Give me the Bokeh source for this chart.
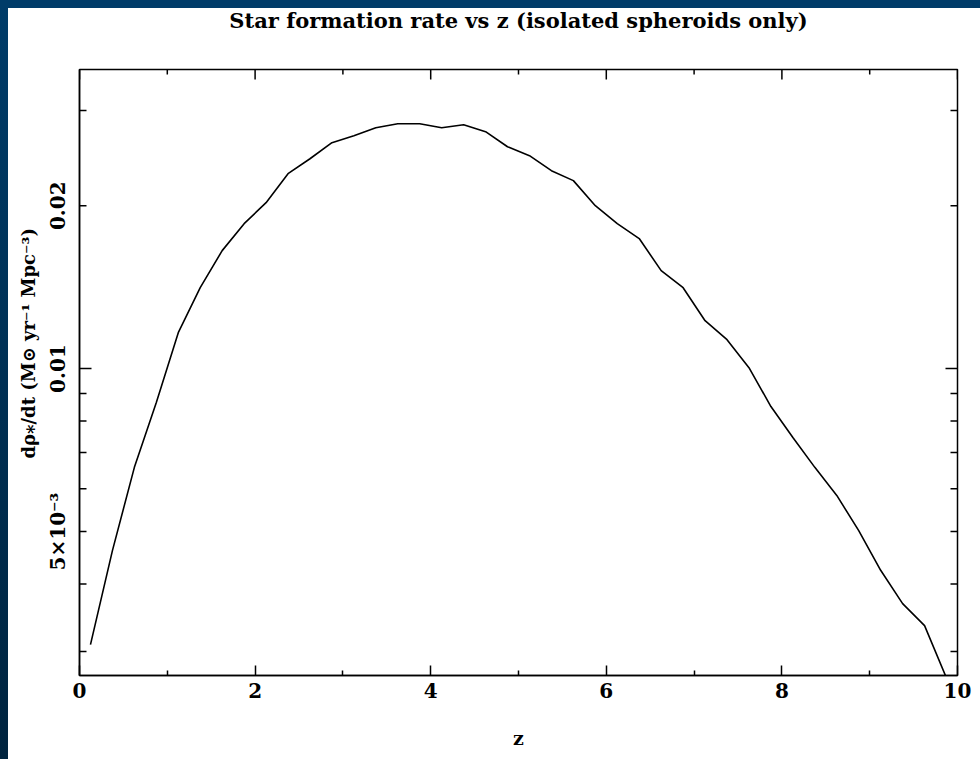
import math
from bokeh.plotting import figure
from bokeh.models import FixedTicker, Label, Range1d, Title, GlobalInlineStyleSheet
from bokeh.embed import file_html
from bokeh.resources import INLINE

# ---------------- data ----------------
z = [0.125, 0.375, 0.625, 0.875, 1.125, 1.375, 1.625, 1.875, 2.125, 2.375,
     2.625, 2.875, 3.125, 3.375, 3.625, 3.875, 4.125, 4.375, 4.625, 4.875,
     5.125, 5.375, 5.625, 5.875, 6.125, 6.375, 6.625, 6.875, 7.125, 7.375,
     7.625, 7.875, 8.125, 8.375, 8.625, 8.875, 9.125, 9.375, 9.625, 9.875]
sfr = [0.00309, 0.00461, 0.00657, 0.00866, 0.01165, 0.01411, 0.01652, 0.01853,
       0.02026, 0.02292, 0.02442, 0.02615, 0.02693, 0.02787, 0.02835, 0.02835,
       0.02787, 0.02822, 0.02740, 0.02570, 0.02474, 0.02321, 0.02225, 0.02000,
       0.01853, 0.01739, 0.01517, 0.01411, 0.01226, 0.01131, 0.01004, 0.00851,
       0.00746, 0.00657, 0.00583, 0.00502, 0.00424, 0.00368, 0.00335, 0.00268]

x_major = [0, 2, 4, 6, 8, 10]
x_minor = [1, 3, 5, 7, 9]
y_major = [0.01]
y_minor = [0.003, 0.004, 0.005, 0.006, 0.007, 0.008, 0.009, 0.02, 0.03]
y_label_ticks = [0.005, 0.01, 0.02]
y_label_texts = ["5×10⁻³", "0.01", "0.02"]

title_text = "Star formation rate vs z (isolated spheroids only)"
x_title = "z"
y_title = "dρ⁎/dt (M⊙ yr⁻¹ Mpc⁻³)"

X_LO, X_HI = 0.0, 10.0
Y_LO, Y_HI = 0.00271, 0.0357

# ---------------- layout (page pixels) ----------------
FIG_X, FIG_Y = 8, 8
W, H = 964, 743
F_L, F_R, F_T, F_B = 79, 957, 69, 675

SERIF = "DejaVu Serif"


def gx(px):
    return X_LO + (px - F_L) / (F_R - F_L) * (X_HI - X_LO)


def gy(py):
    lh, ll = math.log10(Y_HI), math.log10(Y_LO)
    return 10 ** (lh - (py - F_T) / (F_B - F_T) * (lh - ll))


p = figure(width=W, height=H,
           x_range=Range1d(X_LO, X_HI), y_range=Range1d(Y_LO, Y_HI),
           y_axis_type="log", output_backend="svg", toolbar_location=None,
           min_border_left=F_L - FIG_X, min_border_right=FIG_X + W - F_R,
           min_border_top=F_T - FIG_Y, min_border_bottom=FIG_Y + H - F_B,
           background_fill_color="white", border_fill_color="white")
p.outline_line_color = "black"
p.outline_line_width = 1.5
p.grid.visible = False

css = """
html, body { height: auto !important; }
body { margin: 8px !important; padding: 0 !important; }
html {
  min-height: 100vh;
  background: linear-gradient(#003c69, #003c69) 0 0 / 100% 8px no-repeat,
              linear-gradient(#003c69, #00243f) 0 0 / 8px 100% no-repeat,
              #ffffff !important;
}
"""
p.stylesheets = [GlobalInlineStyleSheet(css=css)]

# bottom axis
xa = p.xaxis[0]
xa.ticker = FixedTicker(ticks=x_major, minor_ticks=x_minor)
xa.major_tick_in = 10
xa.major_tick_out = 0
xa.minor_tick_in = 5
xa.minor_tick_out = 0
xa.axis_line_color = "black"
xa.axis_line_width = 1.5
xa.major_tick_line_color = "black"
xa.major_tick_line_width = 1.5
xa.minor_tick_line_color = "black"
xa.minor_tick_line_width = 1.5
xa.major_label_text_font = SERIF
xa.major_label_text_font_size = "20px"
xa.major_label_text_font_style = "bold"
xa.major_label_text_color = "black"
xa.major_label_standoff = 7
xa.axis_label = x_title
xa.axis_label_text_font = SERIF
xa.axis_label_text_font_style = "bold"
xa.axis_label_text_font_size = "19px"
xa.axis_label_text_color = "black"
xa.axis_label_standoff = 26

# left axis: labels only (ticks drawn below)
ya = p.yaxis[0]
ya.ticker = FixedTicker(ticks=y_label_ticks, minor_ticks=[])
ya.major_label_overrides = dict(zip(y_label_ticks, y_label_texts))
ya.major_label_orientation = "parallel"
ya.major_tick_in = 0
ya.major_tick_out = 0
ya.minor_tick_in = 0
ya.minor_tick_out = 0
ya.axis_line_color = "black"
ya.axis_line_width = 1.5
ya.major_label_text_font = SERIF
ya.major_label_text_font_size = "20px"
ya.major_label_text_font_style = "bold"
ya.major_label_text_color = "black"
ya.major_label_standoff = 9

# y title (vertical, on the left)
p.add_layout(Title(text=y_title, align="left", vertical_align="bottom",
                   offset=217, standoff=9, text_font=SERIF,
                   text_font_size="18px", text_font_style="bold",
                   text_color="black"), "left")

# main title in the top panel, placed in canvas pixels
p.add_layout(Label(x=(F_L + F_R) / 2 - FIG_X, y=12, x_units="canvas",
                   y_units="canvas", text=title_text, text_align="center",
                   text_baseline="alphabetic", text_font=SERIF,
                   text_font_size="21px", text_font_style="bold",
                   text_color="black"), "above")

# ticks on left / right / top sides
tick_kw = dict(line_color="black", line_width=1.5)
for tv, ln in [(v, 10) for v in x_major] + [(v, 5) for v in x_minor]:
    p.segment(x0=[tv], y0=[Y_HI], x1=[tv], y1=[gy(F_T + ln)], **tick_kw)
for tv, ln in [(v, 12) for v in y_major] + [(v, 7) for v in y_minor]:
    p.segment(x0=[X_LO], y0=[tv], x1=[gx(F_L + ln)], y1=[tv], **tick_kw)
    p.segment(x0=[X_HI], y0=[tv], x1=[gx(F_R - ln)], y1=[tv], **tick_kw)

p.line(z, sfr, line_color="black", line_width=1.6)

html = file_html(p, INLINE)
open("out.html", "w").write(html)
